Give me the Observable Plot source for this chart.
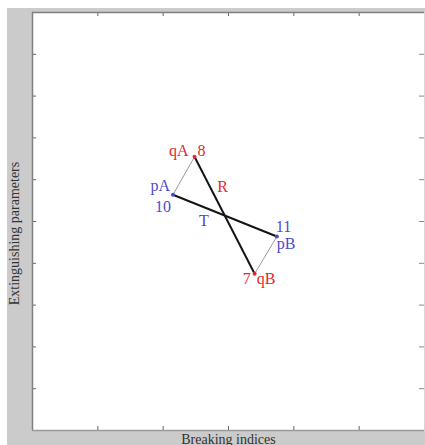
<!DOCTYPE html>
<html>
<head>
<meta charset="utf-8">
<script src="https://cdn.jsdelivr.net/npm/d3@7"></script>
<script src="https://cdn.jsdelivr.net/npm/@observablehq/plot@0.6"></script>
<style>
  html, body { margin: 0; padding: 0; background: #ffffff; }
  #chart { position: absolute; left: 7px; top: 8px; }
</style>
</head>
<body>
<div id="chart"></div>
<script>
// Points of the crossing diagram
const pointIds = ["8", "10", "11", "7"];
const pointNames = ["qA", "pA", "pB", "qB"];
const pointX = [2.48, 2.15, 3.74, 3.40];
const pointY = [6.55, 5.64, 4.64, 3.75];
const pointGroup = ["q", "p", "p", "q"];

// Segments between points (from id, to id, label)
const mainSegments = [["10", "11", "T"], ["8", "7", "R"]];
const sideSegments = [["10", "8"], ["11", "7"]];

// Axis settings
const xDomain = [0, 6];
const yDomain = [0, 10];
const xTicks = [1, 2, 3, 4, 5];
const yTicks = [1, 2, 3, 4, 5, 6, 7, 8, 9];
const xLabel = "Breaking indices";
const yLabel = "Extinguishing parameters";

const groupColor = {q: "#e8262e", p: "#4b4bd1"};
const serif = "'Liberation Serif', 'Times New Roman', serif";

const points = pointIds.map((id, i) => ({
  id, name: pointNames[i], x: pointX[i], y: pointY[i], group: pointGroup[i]
}));
const byId = Object.fromEntries(points.map(p => [p.id, p]));

const toLink = ([a, b, label]) => ({
  x1: byId[a].x, y1: byId[a].y, x2: byId[b].x, y2: byId[b].y, label
});
const mains = mainSegments.map(toLink);
const sides = sideSegments.map(toLink);

const width = 418, height = 437;
const margin = {top: 4, right: 1, bottom: 15, left: 25};
const innerW = width - margin.left - margin.right;
const innerH = height - margin.top - margin.bottom;
const tickLen = 4;

// Label placement around each point: [anchor, dx, dy]
const idPlacement = {
  "8": ["start", 3, -6], "10": ["end", -2, 12], "11": ["start", -1, -10], "7": ["end", -4, 5]
};
const namePlacement = {
  "8": ["end", -6, -6], "10": ["end", -3, -9], "11": ["start", 0, 7], "7": ["start", 2, 5]
};
// Segment label offsets from the segment midpoint
const segPlacement = {T: [-21, 5, "#4b4bd1"], R: [-2, -28, "#e8262e"]};

const labelMarks = [];
for (const p of points) {
  const [ia, idx, idy] = idPlacement[p.id];
  const [na, ndx, ndy] = namePlacement[p.id];
  labelMarks.push(Plot.text([p], {
    x: "x", y: "y", text: "id", textAnchor: ia, dx: idx, dy: idy,
    fill: groupColor[p.group], fontSize: 16, fontFamily: serif
  }));
  labelMarks.push(Plot.text([p], {
    x: "x", y: "y", text: "name", textAnchor: na, dx: ndx, dy: ndy,
    fill: groupColor[p.group], fontSize: 16, fontFamily: serif
  }));
}
for (const s of mains) {
  const [dx, dy, color] = segPlacement[s.label];
  labelMarks.push(Plot.text([s], {
    x: d => (d.x1 + d.x2) / 2, y: d => (d.y1 + d.y2) / 2, text: "label",
    dx, dy, fill: color, fontSize: 16, fontFamily: serif
  }));
}

const chart = Plot.plot({
  width, height,
  marginTop: margin.top, marginRight: margin.right,
  marginBottom: margin.bottom, marginLeft: margin.left,
  x: {domain: xDomain, axis: null},
  y: {domain: yDomain, axis: null},
  style: {background: "#cbcbcb", overflow: "visible", fontFamily: serif},
  marks: [
    Plot.frame({fill: "white", stroke: null}),
    // inward ticks on all four sides
    Plot.tickX(xTicks, {x: d => d, insetTop: innerH - tickLen, stroke: "#666"}),
    Plot.tickX(xTicks, {x: d => d, insetBottom: innerH - tickLen, stroke: "#666"}),
    Plot.tickY(yTicks, {y: d => d, insetRight: innerW - tickLen, stroke: "#666"}),
    Plot.tickY(yTicks, {y: d => d, insetLeft: innerW - tickLen - 1, stroke: "#888"}),
    // box
    Plot.ruleY([yDomain[1]], {stroke: "#808080", strokeWidth: 1.5}),
    Plot.ruleX([xDomain[0]], {stroke: "#808080", strokeWidth: 1.5}),
    Plot.ruleY([yDomain[0]], {stroke: "#9a9a9a", strokeWidth: 1.5}),
    Plot.ruleX([xDomain[1]], {stroke: "#d8d8d8", strokeWidth: 1}),
    // segments
    Plot.link(sides, {x1: "x1", y1: "y1", x2: "x2", y2: "y2", stroke: "#9a9a9a", strokeWidth: 1}),
    Plot.link(mains, {x1: "x1", y1: "y1", x2: "x2", y2: "y2", stroke: "#151515", strokeWidth: 2}),
    Plot.dot(points, {x: "x", y: "y", r: 2, fill: d => groupColor[d.group], stroke: null}),
    ...labelMarks,
    // axis titles
    Plot.text([xLabel], {
      text: d => d, frameAnchor: "bottom", lineAnchor: "top", dy: 4,
      fontSize: 14, fill: "#333", fontFamily: serif
    }),
    Plot.text([yLabel], {
      text: d => d, frameAnchor: "left", textAnchor: "middle", rotate: -90, dx: -18, dy: 12,
      fontSize: 14, fill: "#333", fontFamily: serif
    })
  ]
});

document.getElementById("chart").appendChild(chart);
</script>
</body>
</html>
